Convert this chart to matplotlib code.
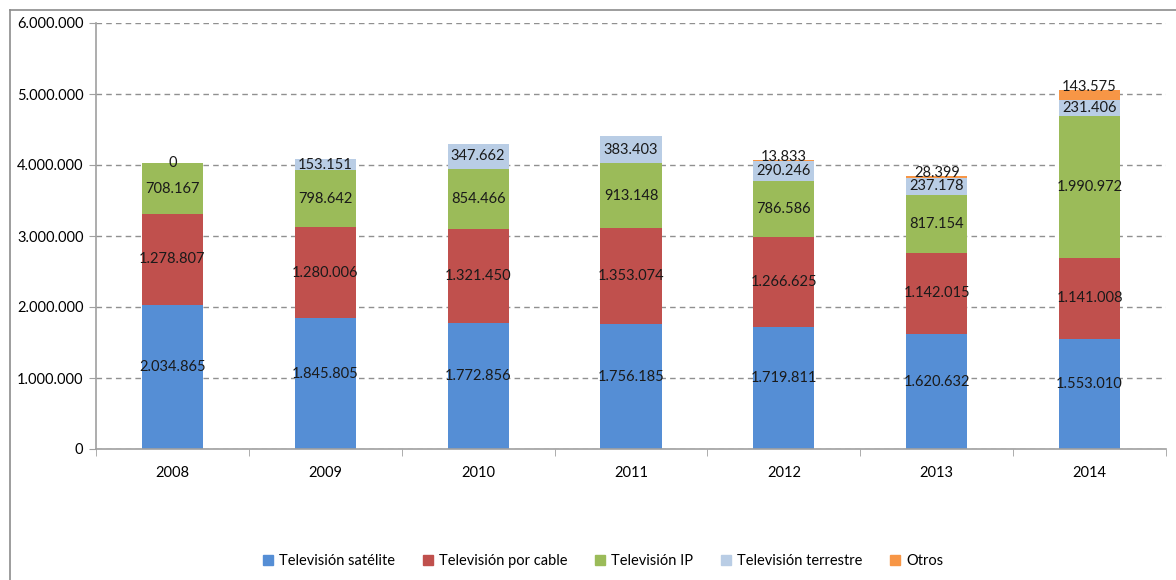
import numpy as np
import matplotlib.pyplot as plt
from matplotlib.lines import Line2D

years = ['2008', '2009', '2010', '2011', '2012', '2013', '2014']
series_names = ['Televisión satélite', 'Televisión por cable', 'Televisión IP',
                'Televisión terrestre', 'Otros']
satelite = [2034865, 1845805, 1772856, 1756185, 1719811, 1620632, 1553010]
cable = [1278807, 1280006, 1321450, 1353074, 1266625, 1142015, 1141008]
ip = [708167, 798642, 854466, 913148, 786586, 817154, 1990972]
terrestre = [0, 153151, 347662, 383403, 290246, 237178, 231406]
otros = [None, None, None, None, 13833, 28399, 143575]

colors = ['#558ED5', '#C0504D', '#9BBB59', '#B9CDE5', '#F79646']
# vertical nudge of the data labels, in points
label_nudge = [7, 0, 0, 0, 2]


def fmt(v):
    return f'{v:,}'.replace(',', '.')


plt.rcParams['font.family'] = ['Lato', 'DejaVu Sans']
fig = plt.figure(figsize=(11.76, 5.8), dpi=100)
ax = fig.add_axes([96 / 1176, 1 - 449 / 580, 1070 / 1176, 426 / 580])

x = np.arange(len(years))
bottom = np.zeros(len(years))
for k, (name, vals, c) in enumerate(zip(series_names, [satelite, cable, ip, terrestre, otros], colors)):
    v = np.array([0 if val is None else val for val in vals], dtype=float)
    ax.bar(x, v, 0.4, bottom=bottom, color=c, zorder=2, label=name)
    for i, val in enumerate(vals):
        if val is None:
            continue
        # the small "Otros" segment gets its label at the top of the bar
        y = bottom[i] + v[i] if k == 4 else bottom[i] + v[i] / 2
        ax.annotate(fmt(val), (x[i], y), xytext=(0, label_nudge[k]), textcoords='offset points',
                    ha='center', va='center', fontsize=10.5, color='#1a1a1a', zorder=3)
    bottom += v

ax.set_xlim(-0.5, len(years) - 0.5)
ax.set_ylim(0, 6000000)
ax.set_yticks(np.arange(0, 6000001, 1000000))
ax.set_yticklabels([fmt(t) for t in range(0, 6000001, 1000000)], fontsize=10.5)
ax.set_xticks(x)
ax.set_xticklabels(years, fontsize=10.5)
ax.set_xticks(np.arange(-0.5, len(years)), minor=True)
ax.tick_params(axis='x', which='major', length=0, pad=12)
ax.tick_params(axis='x', which='minor', length=5, color='#a0a0a0')
ax.tick_params(axis='y', length=5, color='#a0a0a0', pad=4)
ax.yaxis.grid(True, linestyle=(0, (4, 3)), color='#909090', linewidth=1, zorder=0)
for s in ['top', 'right']:
    ax.spines[s].set_visible(False)
for s in ['left', 'bottom']:
    ax.spines[s].set_color('#a0a0a0')
    ax.spines[s].set_linewidth(1.2)

handles = [plt.Rectangle((0, 0), 1, 1, color=c) for c in colors]
fig.legend(handles, series_names, loc='center', bbox_to_anchor=(603 / 1176, 1 - 561 / 580),
           ncol=5, frameon=False, fontsize=10.5, handlelength=0.7, handleheight=0.7,
           handletextpad=0.4, columnspacing=1.9)

# chart outer border
fig.add_artist(Line2D([10 / 1176, 10 / 1176], [0, 1 - 10 / 580], transform=fig.transFigure,
                      color='#8c8c8c', linewidth=1.2))
fig.add_artist(Line2D([10 / 1176, 1], [1 - 10 / 580, 1 - 10 / 580], transform=fig.transFigure,
                      color='#8c8c8c', linewidth=1.2))

fig.savefig('out.png', dpi=100)
